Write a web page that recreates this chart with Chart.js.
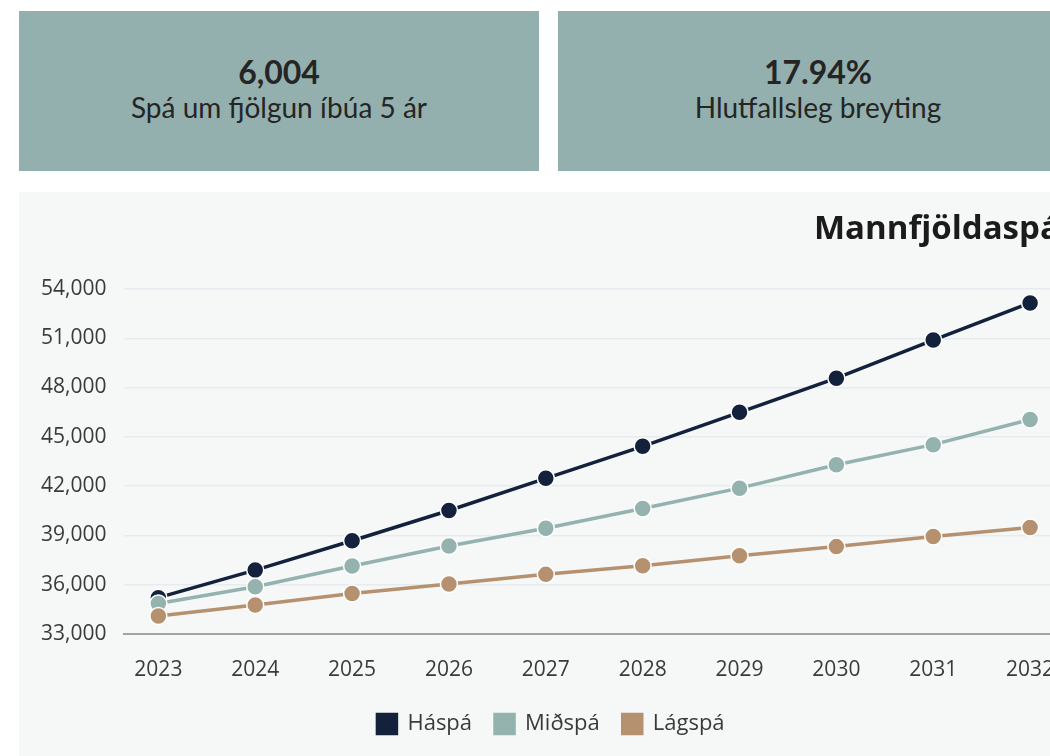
<!DOCTYPE html>
<html>
<head>
<meta charset="utf-8">
<script src="https://cdn.jsdelivr.net/npm/chart.js@4.4.0/dist/chart.umd.min.js"></script>
<style>
  html, body { margin: 0; padding: 0; background: #fff; overflow: hidden; width: 1050px; height: 756px; }
  .card { position: absolute; top: 11px; width: 520px; height: 160px; background: #93b0ae; color: #252525;
          font-family: Lato, sans-serif; text-align: center; }
  .card .num { margin-top: 43px; font-size: 32px; font-weight: bold; line-height: 36px; }
  .card .lbl { font-size: 28px; line-height: 34px; }
  #panel { position: absolute; left: 19px; top: 192px; width: 1064px; height: 580px; background: #f6f8f8; }
  #title { position: absolute; left: 795px; top: 18px; font-family: "Open Sans", sans-serif; font-weight: bold;
           font-size: 33px; line-height: 33px; color: #1b1b1b; white-space: nowrap; }
  #wrap { position: absolute; left: 0; top: 0; width: 1064px; height: 553px; }
</style>
</head>
<body>
<div class="card" style="left:19px"><div class="num">6,004</div><div class="lbl">Spá um fjölgun íbúa 5 ár</div></div>
<div class="card" style="left:558px"><div class="num">17.94%</div><div class="lbl">Hlutfallsleg breyting</div></div>
<div id="panel">
  <div id="wrap"><canvas id="myChart"></canvas></div>
  <div id="title">Mannfjöldaspá</div>
</div>
<script>
// years on the x axis
var years = [2023, 2024, 2025, 2026, 2027, 2028, 2029, 2030, 2031, 2032];
// population forecasts
var haspa  = [35200, 36880, 38670, 40510, 42470, 44420, 46490, 48570, 50890, 53150];
var midspa = [34850, 35870, 37130, 38350, 39430, 40630, 41870, 43300, 44520, 46050];
var lagspa = [34080, 34750, 35460, 36030, 36620, 37150, 37760, 38310, 38920, 39470];
// y tick values
var yTicks = [33000, 36000, 39000, 42000, 45000, 48000, 51000, 54000];

let toPoints = function(vals){
    return years.map(function(yr, i){ return {x: yr, y: vals[i]}; });
}

let makeSet = function(label, vals, color){
    return {
        label: label,
        data: toPoints(vals),
        borderColor: color,
        backgroundColor: color,
        pointBackgroundColor: color,
        pointBorderColor: '#ffffff',
        pointBorderWidth: 1.5,
        pointRadius: 8.5,
        borderWidth: 3.5
    };
}

var ctx = document.getElementById('myChart').getContext('2d');
var chart = new Chart(ctx, {
    type: 'line',
    data: {
        // first dataset is drawn on top, legend is reversed
        datasets: [
            makeSet('Lágspá', lagspa, '#b59170'),
            makeSet('Miðspá', midspa, '#94b2ae'),
            makeSet('Háspá', haspa, '#13213c')
        ]
    },
    options: {
        responsive: true,
        maintainAspectRatio: false,
        animation: false,
        layout: { padding: { left: 19, right: 19, top: 97, bottom: 0 } },
        plugins: {
            tooltip: { enabled: false },
            legend: {
                position: 'bottom',
                reverse: true,
                labels: {
                    boxWidth: 19, boxHeight: 19, padding: 23,
                    color: '#3a3a3a',
                    font: { family: 'Open Sans', size: 22 }
                }
            }
        },
        scales: {
            x: {
                type: 'linear',
                min: 2022.65,
                max: 2032.35,
                afterBuildTicks: function(scale){ scale.ticks = years.map(function(v){ return {value: v}; }); },
                afterFit: function(scale){ scale.height -= 9; },
                grid: { display: false },
                border: { color: '#a3a3a3', width: 2 },
                ticks: {
                    color: '#3a3a3a', padding: 16,
                    font: { family: 'Open Sans', size: 21 },
                    callback: function(v){ return String(v); },
                    maxRotation: 0, autoSkip: false
                }
            },
            y: {
                min: 33000,
                max: 54000,
                afterBuildTicks: function(scale){ scale.ticks = yTicks.map(function(v){ return {value: v}; }); },
                afterFit: function(scale){ scale.width -= 15; },
                grid: { color: '#e5ebee', lineWidth: 1.5, drawTicks: false },
                border: { display: false },
                ticks: {
                    color: '#3a3a3a', padding: 18,
                    font: { family: 'Open Sans', size: 21 },
                    callback: function(v){ return v.toLocaleString('en-US'); }
                }
            }
        }
    }
});
</script>
</body>
</html>
